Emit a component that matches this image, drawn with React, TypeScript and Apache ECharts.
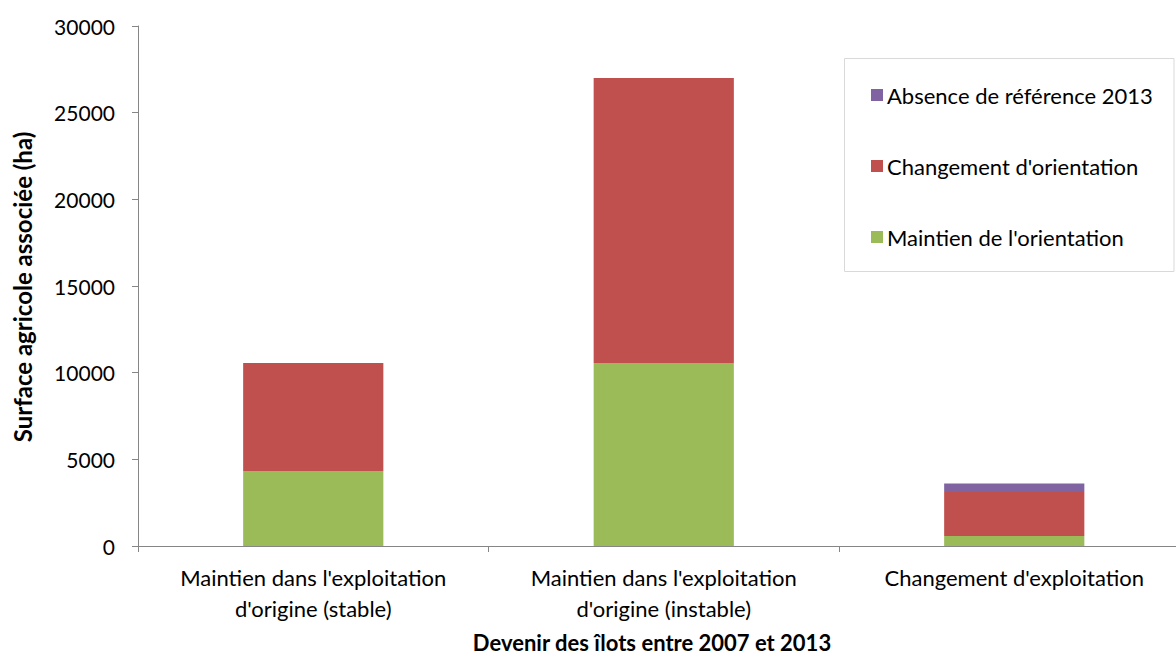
import React, { useEffect, useRef } from "react";
import * as echarts from "echarts";

const categories = [
  "Maintien dans l'exploitation\nd'origine (stable)",
  "Maintien dans l'exploitation\nd'origine (instable)",
  "Changement d'exploitation",
];
const maintien = [4330, 10560, 580];
const changement = [6230, 16440, 2540];
const absence = [0, 0, 480];
const yTicks = { min: 0, max: 30000, interval: 5000 };

const FONT = "Lato";

export default function App() {
  const ref = useRef<HTMLDivElement>(null);
  useEffect(() => {
    document.body.style.margin = "0";
    const chart = echarts.init(ref.current!, null, { renderer: "svg" });
    chart.setOption({
      animation: false,
      textStyle: { fontFamily: FONT },
      grid: { left: 138, top: 26, bottom: 109, right: 0.5, containLabel: false },
      legend: {
        orient: "vertical",
        left: 866,
        top: 79,
        itemWidth: 12,
        itemHeight: 12,
        itemGap: 49,
        icon: "rect",
        data: ["Absence de référence 2013", "Changement d'orientation", "Maintien de l'orientation"],
        textStyle: { fontFamily: FONT, fontSize: 22, color: "#000", lineHeight: 22, padding: [0, 0, 0, -1] },
      },
      graphic: [
        {
          type: "rect",
          shape: { x: 844.5, y: 58.5, width: 329.5, height: 213 },
          style: { fill: "none", stroke: "#d9d9d9", lineWidth: 1 },
          z: 0,
        },
        {
          type: "text",
          x: 652,
          y: 642,
          style: {
            text: "Devenir des îlots entre 2007 et 2013",
            fontFamily: FONT,
            fontWeight: "bold",
            fontSize: 22,
            lineHeight: 22,
            fill: "#000",
            align: "center",
            verticalAlign: "middle",
          },
        },
        {
          type: "text",
          x: 22,
          y: 287,
          rotation: Math.PI / 2,
          style: {
            text: "Surface agricole associée (ha)",
            fontFamily: FONT,
            fontWeight: "bold",
            fontSize: 24,
            fill: "#000",
            align: "center",
            verticalAlign: "middle",
          },
        },
      ],
      xAxis: {
        type: "category",
        data: categories,
        axisLine: { lineStyle: { color: "#868686", width: 1 } },
        axisTick: { show: true, alignWithLabel: false, length: 6, lineStyle: { color: "#868686" } },
        axisLabel: { color: "#000", fontSize: 22, lineHeight: 31, margin: 16, fontFamily: FONT, interval: 0 },
      },
      yAxis: {
        type: "value",
        min: yTicks.min,
        max: yTicks.max,
        interval: yTicks.interval,
        axisLine: { show: true, lineStyle: { color: "#868686", width: 1 } },
        axisTick: { show: true, length: 6, lineStyle: { color: "#868686" } },
        splitLine: { show: false },
        axisLabel: { color: "#000", fontSize: 21, margin: 23, fontFamily: FONT, formatter: (v: number) => String(v) },
      },
      series: [
        {
          name: "Maintien de l'orientation",
          type: "bar",
          stack: "s",
          data: maintien,
          barCategoryGap: "60%",
          itemStyle: { color: "#9BBB59" },
        },
        {
          name: "Changement d'orientation",
          type: "bar",
          stack: "s",
          data: changement,
          itemStyle: { color: "#C0504D" },
        },
        {
          name: "Absence de référence 2013",
          type: "bar",
          stack: "s",
          data: absence,
          itemStyle: { color: "#8064A2" },
        },
      ],
    });
    return () => chart.dispose();
  }, []);
  return (
    <div style={{ width: 1176, height: 655, overflow: "hidden", position: "relative" }}>
      <div ref={ref} style={{ width: 1190, height: 655 }} />
    </div>
  );
}
